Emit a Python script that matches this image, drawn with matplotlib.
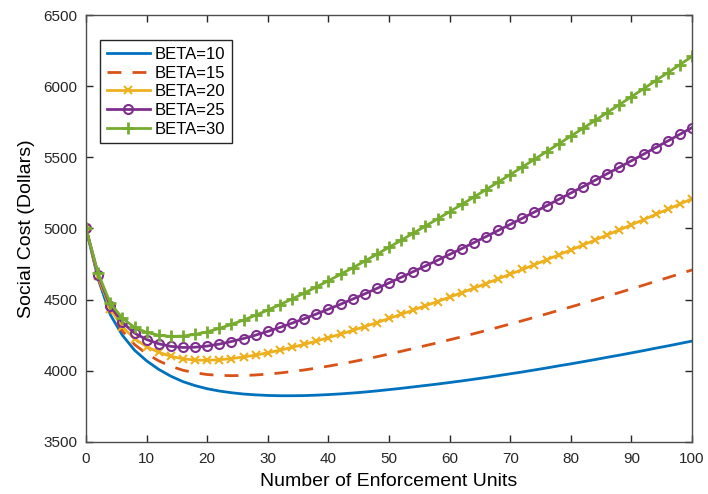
import numpy as np
import matplotlib.pyplot as plt

plt.rcParams['font.family'] = ['Liberation Sans', 'DejaVu Sans']

# Enforcement units (every 2 units from 0 to 100)
units = list(range(0, 101, 2))

# Social cost for each BETA value
cost_b10 = [5000, 4645, 4395, 4250, 4145, 4070, 4010, 3962, 3924, 3896,
            3874, 3858, 3846, 3837, 3831, 3827, 3825, 3825, 3826, 3829,
            3833, 3838, 3844, 3851, 3859, 3868, 3877, 3887, 3897, 3907,
            3918, 3929, 3941, 3953, 3966, 3979, 3992, 4006, 4020, 4035,
            4049, 4064, 4079, 4095, 4110, 4126, 4142, 4159, 4175, 4192,
            4209]
cost_b15 = [5000, 4655, 4415, 4280, 4185, 4120, 4070, 4032, 4004, 3986,
            3974, 3968, 3966, 3967, 3971, 3977, 3985, 3995, 4006, 4019,
            4033, 4048, 4064, 4081, 4099, 4118, 4137, 4157, 4177, 4197,
            4218, 4239, 4261, 4283, 4306, 4329, 4352, 4376, 4400, 4425,
            4449, 4474, 4499, 4525, 4550, 4576, 4602, 4629, 4655, 4682,
            4709]
cost_b20 = [5000, 4665, 4435, 4310, 4225, 4170, 4130, 4102, 4084, 4076,
            4074, 4078, 4086, 4097, 4111, 4127, 4145, 4165, 4186, 4209,
            4233, 4258, 4284, 4311, 4339, 4368, 4397, 4427, 4457, 4487,
            4518, 4549, 4581, 4613, 4646, 4679, 4712, 4746, 4780, 4815,
            4849, 4884, 4919, 4955, 4990, 5026, 5062, 5099, 5135, 5172,
            5209]
cost_b25 = [5000, 4675, 4455, 4340, 4265, 4220, 4190, 4172, 4164, 4166,
            4174, 4188, 4206, 4227, 4251, 4277, 4305, 4335, 4366, 4399,
            4433, 4468, 4504, 4541, 4579, 4618, 4657, 4697, 4737, 4777,
            4818, 4859, 4901, 4943, 4986, 5029, 5072, 5116, 5160, 5205,
            5249, 5294, 5339, 5385, 5430, 5476, 5522, 5569, 5615, 5662,
            5709]
cost_b30 = [5000, 4685, 4475, 4370, 4305, 4270, 4250, 4242, 4244, 4256,
            4274, 4298, 4326, 4357, 4391, 4427, 4465, 4505, 4546, 4589,
            4633, 4678, 4724, 4771, 4819, 4868, 4917, 4967, 5017, 5067,
            5118, 5169, 5221, 5273, 5326, 5379, 5432, 5486, 5540, 5595,
            5649, 5704, 5759, 5815, 5870, 5926, 5982, 6039, 6095, 6152,
            6209]

fig = plt.figure(figsize=(7.08, 4.94), dpi=100)
ax = fig.add_axes([0.1215, 0.1053, 0.856, 0.8643])

ax.plot(units, cost_b10, color='#0072BD', lw=2, label='BETA=10')
ax.plot(units, cost_b15, color='#D95319', lw=2, ls=(0, (5, 4)), label='BETA=15')
ax.plot(units, cost_b20, color='#EDB120', lw=2, marker='x', ms=6, mew=1.5,
        label='BETA=20')
ax.plot(units, cost_b25, color='#7E2F8E', lw=2, marker='o', ms=6.5, mew=1.5,
        mfc='none', label='BETA=25')
ax.plot(units, cost_b30, color='#77AC30', lw=2, marker='+', ms=8, mew=2,
        label='BETA=30')

ax.set_xlim(0, 100)
ax.set_ylim(3500, 6500)
ax.set_xticks(np.arange(0, 101, 10))
ax.set_yticks(np.arange(3500, 6501, 500))
ax.tick_params(direction='in', top=True, right=True, length=5, width=1,
               labelsize=11, colors='#262626')
ax.tick_params(axis='x', pad=7)
ax.tick_params(axis='y', pad=6)
for sp in ax.spines.values():
    sp.set_color('#4d4d4d')
    sp.set_linewidth(1)

ax.set_xlabel('Number of Enforcement Units', fontsize=14, labelpad=5)
ax.set_ylabel('Social Cost (Dollars)', fontsize=14, labelpad=6)

leg = ax.legend(loc='upper left', bbox_to_anchor=(0.023, 0.941), borderaxespad=0,
                fontsize=12, fancybox=False, framealpha=1, edgecolor='#262626',
                handlelength=2.6, handletextpad=0.3, labelspacing=0.22,
                borderpad=0.4)
leg.get_frame().set_linewidth(1)

fig.savefig('out.png', dpi=100)
